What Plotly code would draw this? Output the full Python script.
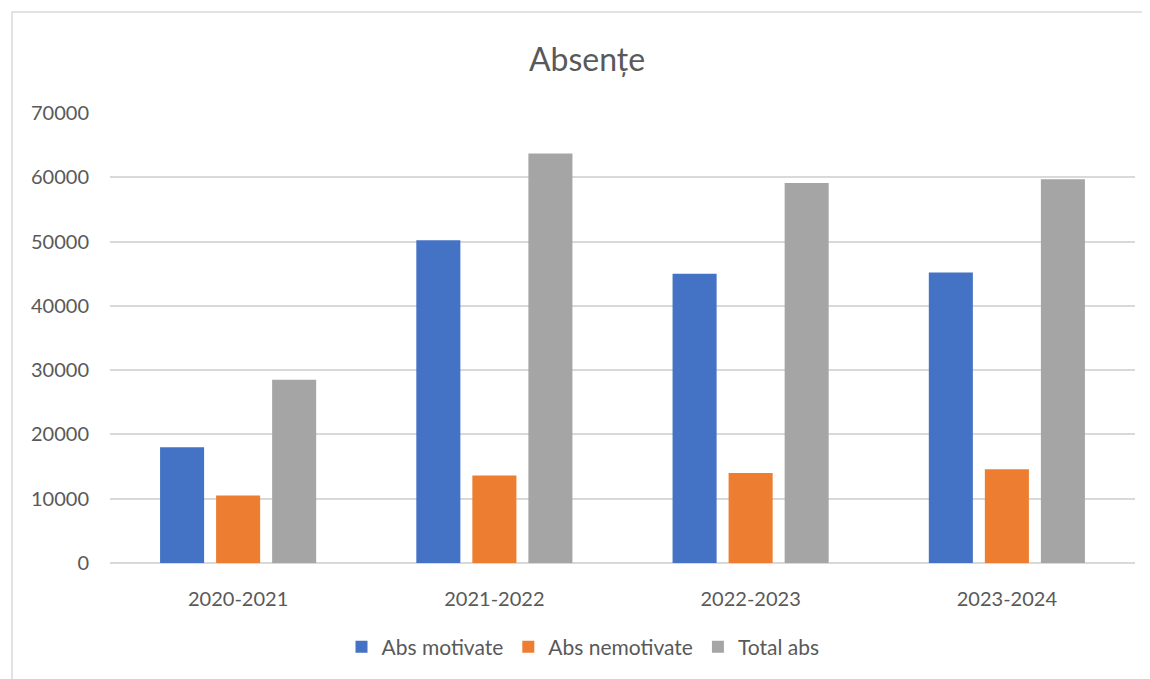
import plotly.graph_objects as go

categories = ["2020-2021", "2021-2022", "2022-2023", "2023-2024"]
abs_motivate = [18000, 50200, 45000, 45200]
abs_nemotivate = [10500, 13600, 14000, 14600]
total_abs = [28500, 63700, 59100, 59700]
y_ticks = [0, 10000, 20000, 30000, 40000, 50000, 60000, 70000]

FONT = "Lato"
GRAY_TXT = "#595959"

fig = go.Figure()
fig.add_trace(go.Bar(name="Abs motivate", x=categories, y=abs_motivate,
                     marker=dict(color="#4472C4", line=dict(width=0))))
fig.add_trace(go.Bar(name="Abs nemotivate", x=categories, y=abs_nemotivate,
                     marker=dict(color="#ED7D31", line=dict(width=0))))
fig.add_trace(go.Bar(name="Total abs", x=categories, y=total_abs,
                     marker=dict(color="#A5A5A5", line=dict(width=0))))

# page body has an 8px margin; positions below are in screenshot pixels
OFF = 8
W, H = 1150, 679
PL, PR, PT, PB = 110, 1135, 113, 563  # plot area in screenshot px
L, R = PL - OFF, W - (PR - OFF)
T, B = PT - OFF, H - (PB - OFF)
pw, ph = W - L - R, H - T - B

def px_to_paper_x(px):
    return (px - OFF - L) / pw

def px_to_paper_y(py):
    return (H - B - (py - OFF)) / ph

fig.update_layout(
    width=W, height=H,
    margin=dict(l=L, r=R, t=T, b=B),
    paper_bgcolor="white", plot_bgcolor="white",
    barmode="group", bargap=0.344, bargroupgap=0.214,
    font=dict(family=FONT, color=GRAY_TXT, size=20),
    title=dict(text="Absențe", x=(587 - OFF) / W, xanchor="center",
               y=1 - (60 - OFF) / H, yanchor="middle",
               font=dict(family=FONT, size=32, color=GRAY_TXT)),
    showlegend=True,
    legend=dict(orientation="h", x=px_to_paper_x(583), xanchor="center",
                y=px_to_paper_y(647), yanchor="middle",
                font=dict(family=FONT, size=21, color=GRAY_TXT), itemwidth=30,
                traceorder="normal"),
    xaxis=dict(showgrid=False, showline=False, ticks="", zeroline=False,
               tickfont=dict(family=FONT, size=20, color=GRAY_TXT),
               ticklabelstandoff=22),
    yaxis=dict(range=[0, 70000], tickvals=y_ticks, ticktext=[str(v) for v in y_ticks],
               showgrid=True, gridcolor="#D9D9D9", gridwidth=1.5,
               zeroline=True, zerolinecolor="#D9D9D9", zerolinewidth=1.5,
               showline=False, ticks="",
               tickfont=dict(family=FONT, size=20, color=GRAY_TXT),
               ticklabelstandoff=20),
    shapes=[dict(type="rect", xref="paper", yref="paper",
                 x0=px_to_paper_x(12), x1=px_to_paper_x(1149),
                 y0=px_to_paper_y(720), y1=px_to_paper_y(12),
                 line=dict(color="#D9D9D9", width=1.5), fillcolor="rgba(0,0,0,0)",
                 layer="below")],
)

fig.write_html("out.html")
